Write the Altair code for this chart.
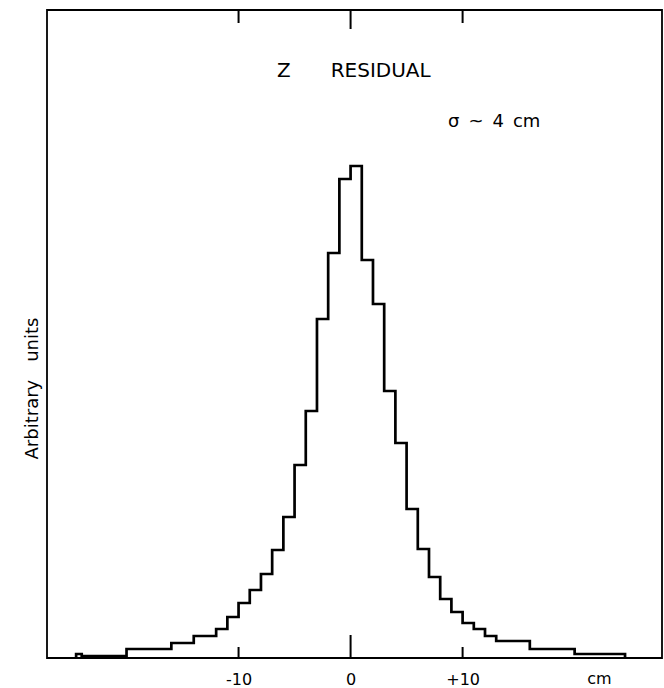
import altair as alt
import pandas as pd

# ---- data ----
# histogram bin edges (cm) and contents (arbitrary units)
bin_edges = [-24.5, -24, -20, -16, -14, -12, -11, -10, -9, -8, -7, -6, -5, -4, -3, -2, -1,
             0, 1, 2, 3, 4, 5, 6, 7, 8, 9, 10, 11, 12, 13, 16, 20, 24.5]
bin_counts = [4, 2, 9, 15, 22, 29, 41, 55, 68, 84, 108, 141, 193, 247, 339, 405, 479,
              492, 398, 354, 267, 215, 149, 109, 81, 59, 46, 35, 29, 22, 17, 9, 4]
tick_values = [-10, 0, 10]

title_text = "Z\u2003\u2003RESIDUAL"
sigma_text = "\u03c3\u2002~\u20024\u2002cm"
y_title = "Arbitrary\u2003units"
x_unit = "cm"

FONT = "DejaVu Sans"
W, H = 615, 648

# outline of the histogram as a step path
xs = [bin_edges[0]] + bin_edges[:-1] + [bin_edges[-1]]
ys = [0] + bin_counts + [0]
hist_df = pd.DataFrame({"x": xs, "y": ys, "i": list(range(len(xs)))})
tick_df = pd.DataFrame({"x": tick_values})

x_scale = alt.Scale(domain=[-27.1, 27.8], nice=False, zero=False)
y_scale = alt.Scale(domain=[0, 648], nice=False, zero=True)

x_axis = alt.Axis(
    values=tick_values,
    labelExpr="datum.value > 0 ? '+' + datum.value : '' + datum.value",
    ticks=False, tickSize=0, domain=False, grid=False,
    labelPadding=13, labelFont=FONT, labelFontSize=16, labelColor="black",
    title=x_unit, titleFont=FONT, titleFontSize=16, titleFontWeight="normal",
    titleColor="black", titleX=552, titleY=25, titleBaseline="alphabetic",
    titleAlign="center",
)
y_axis = alt.Axis(
    labels=False, ticks=False, domain=False, grid=False,
    title=y_title, titleFont=FONT, titleFontSize=18, titleFontWeight="normal",
    titleColor="black", titleAngle=270, titleX=-10, titleY=378,
    titleBaseline="alphabetic", titleAlign="center",
)

hist = alt.Chart(hist_df).mark_line(
    interpolate="step-after", color="black", strokeWidth=2.7
).encode(
    x=alt.X("x:Q", scale=x_scale, axis=x_axis),
    y=alt.Y("y:Q", scale=y_scale, axis=y_axis),
    order="i:Q",
)

def tick_layer(test, y_from, y_to):
    return alt.Chart(tick_df).transform_filter(test).mark_rule(
        color="black", strokeWidth=2
    ).encode(
        x=alt.X("x:Q", scale=x_scale, axis=x_axis),
        y=alt.value(y_from),
        y2=alt.value(y_to),
    )

ticks = [
    tick_layer("datum.x == 0", H, H - 23),
    tick_layer("datum.x != 0", H, H - 11),
    tick_layer("datum.x == 0", 0, 19),
    tick_layer("datum.x != 0", 0, 13),
]

title = alt.Chart(pd.DataFrame({"t": [title_text]})).mark_text(
    font=FONT, fontSize=20, align="left", baseline="alphabetic", color="black"
).encode(x=alt.value(230), y=alt.value(67), text="t:N")

sigma = alt.Chart(pd.DataFrame({"t": [sigma_text]})).mark_text(
    font=FONT, fontSize=18, align="left", baseline="alphabetic", color="black"
).encode(x=alt.value(401), y=alt.value(117), text="t:N")

chart = alt.layer(hist, *ticks, title, sigma).properties(
    width=W, height=H,
    autosize=alt.AutoSizeParams(type="none"),
    padding={"left": 47, "top": 10, "right": 2, "bottom": 30},
    background="white",
).configure_view(stroke="black", strokeWidth=1.8)

chart.save("out.html", embed_options={"renderer": "svg", "actions": False})
